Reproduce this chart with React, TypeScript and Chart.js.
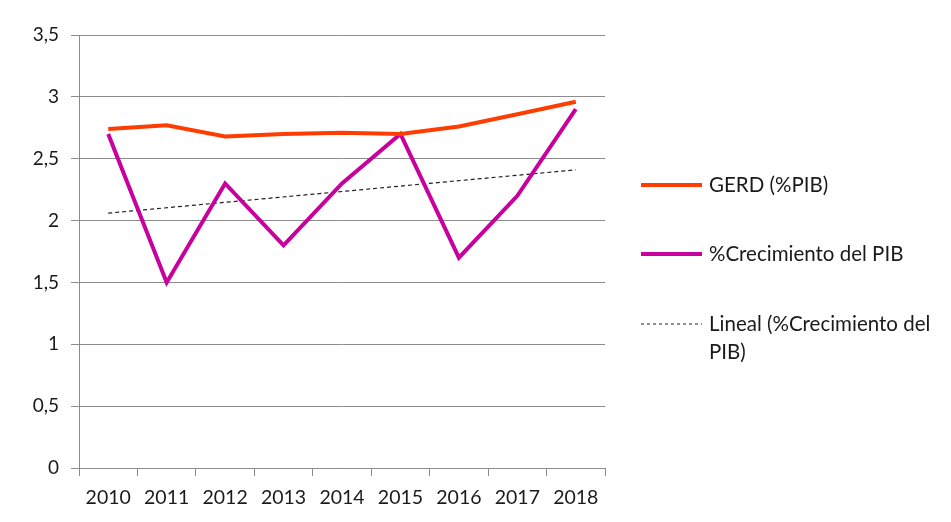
import React, { useEffect, useRef } from "react";
import { Chart, registerables } from "chart.js";

Chart.register(...registerables);

const years = ["2010", "2011", "2012", "2013", "2014", "2015", "2016", "2017", "2018"];
const gerd = [2.74, 2.77, 2.68, 2.7, 2.71, 2.7, 2.76, 2.86, 2.96];
const crecimiento = [2.7, 1.5, 2.3, 1.8, 2.3, 2.7, 1.7, 2.2, 2.9];
const lineal = [2.06, null, null, null, null, null, null, null, 2.41];
const legendLabels = ["GERD (%PIB)", "%Crecimiento del PIB", ["Lineal (%Crecimiento del", "PIB)"]];

const FONT = "Lato, 'Open Sans', sans-serif";
const GERD_COLOR = "#ff3d00";
const CREC_COLOR = "#c8009e";

const legendPlugin = {
  id: "customLegend",
  afterDraw(chart: any) {
    const ctx = chart.ctx;
    ctx.save();
    ctx.font = `20.5px ${FONT}`;
    ctx.fillStyle = "#1a1a1a";
    ctx.textBaseline = "middle";
    ctx.textAlign = "left";
    const x0 = 641, x1 = 702, tx = 709;
    const rows = [185, 254, 324];
    ctx.strokeStyle = GERD_COLOR;
    ctx.lineWidth = 4;
    ctx.setLineDash([]);
    ctx.beginPath(); ctx.moveTo(x0, rows[0]); ctx.lineTo(x1, rows[0]); ctx.stroke();
    ctx.fillText(legendLabels[0] as string, tx, rows[0]);
    ctx.strokeStyle = CREC_COLOR;
    ctx.beginPath(); ctx.moveTo(x0, rows[1]); ctx.lineTo(x1, rows[1]); ctx.stroke();
    ctx.fillText(legendLabels[1] as string, tx, rows[1]);
    ctx.strokeStyle = "#222";
    ctx.lineWidth = 1;
    ctx.setLineDash([3, 3]);
    ctx.beginPath(); ctx.moveTo(x0, rows[2]); ctx.lineTo(x1, rows[2]); ctx.stroke();
    const lines = legendLabels[2] as string[];
    lines.forEach((t, i) => ctx.fillText(t, tx, rows[2] + i * 28));
    ctx.restore();
  },
};

export default function App() {
  const ref = useRef<HTMLCanvasElement>(null);
  useEffect(() => {
    if (!ref.current) return;
    const chart = new Chart(ref.current, {
      type: "line",
      data: {
        labels: years,
        datasets: [
          {
            label: "GERD (%PIB)",
            data: gerd,
            borderColor: GERD_COLOR,
            borderWidth: 4,
            pointRadius: 0,
            tension: 0,
          },
          {
            label: "%Crecimiento del PIB",
            data: crecimiento,
            borderColor: CREC_COLOR,
            borderWidth: 4,
            pointRadius: 0,
            tension: 0,
          },
          {
            label: "Lineal (%Crecimiento del PIB)",
            data: lineal as any,
            borderColor: "#222",
            borderWidth: 1.2,
            borderDash: [4, 3],
            pointRadius: 0,
            spanGaps: true,
          },
        ],
      },
      options: {
        animation: false,
        responsive: false,
        layout: { padding: { top: 35, right: 346, left: 0, bottom: 0 } },
        plugins: { legend: { display: false }, tooltip: { enabled: false } },
        scales: {
          x: {
            offset: true,
            afterFit: (s: any) => { s.height = 54; },
            grid: {
              offset: true,
              drawOnChartArea: false,
              color: "#8c8c8c",
              tickLength: 8,
            },
            border: { color: "#8c8c8c" },
            ticks: { color: "#1a1a1a", font: { family: FONT, size: 19.5 }, padding: 10, maxRotation: 0 },
          },
          y: {
            min: 0,
            max: 3.5,
            afterFit: (s: any) => { s.width = 79; },
            ticks: {
              stepSize: 0.5,
              color: "#1a1a1a",
              font: { family: FONT, size: 19 },
              padding: 12,
              callback: (v: any) => String(v).replace(".", ","),
            },
            grid: { color: "#8c8c8c", tickLength: 8 },
            border: { color: "#8c8c8c" },
          },
        },
      },
      plugins: [legendPlugin],
    });
    return () => chart.destroy();
  }, []);
  return (
    <div style={{ position: "fixed", left: 0, top: 0, width: 951, height: 522, background: "#fff" }}>
      <canvas ref={ref} width={951} height={522} style={{ width: 951, height: 522 }} />
    </div>
  );
}
